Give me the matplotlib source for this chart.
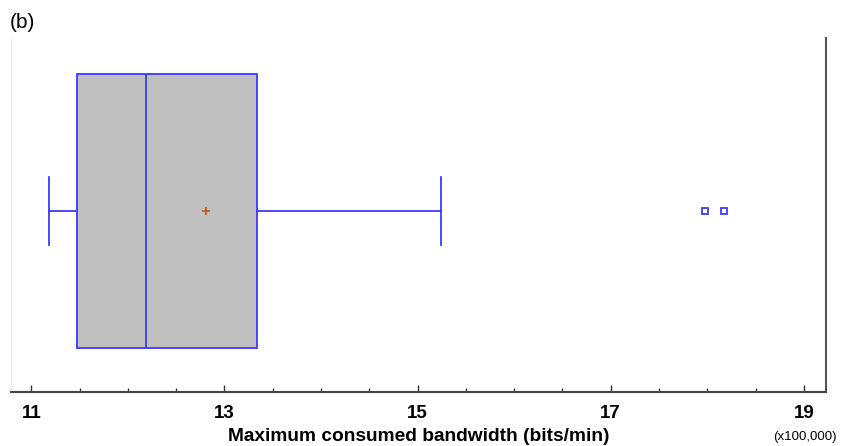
import matplotlib.pyplot as plt
from matplotlib.ticker import MultipleLocator

plt.rcParams['font.family'] = ['Liberation Sans', 'DejaVu Sans']

# box-and-whisker summary (units of 100,000 bits/min)
whisker_low = 11.18
q1 = 11.47
median = 12.19
q3 = 13.34
whisker_high = 15.24
mean = 12.81
outliers = [17.98, 18.17]

major_ticks = [11, 13, 15, 17, 19]

blue = '#3a3aff'

fig = plt.figure(figsize=(8.45, 4.46), dpi=100)
ax = fig.add_axes([11/845, 54/446, 815/845, 354/446])

stats = [dict(whislo=whisker_low, q1=q1, med=median, q3=q3, whishi=whisker_high,
              mean=mean, fliers=outliers)]
ax.bxp(stats, positions=[0.511], widths=0.774, vert=False, patch_artist=True,
       showmeans=True, capwidths=0.192,
       boxprops=dict(facecolor='#c0c0c0', edgecolor=blue, linewidth=1.3),
       medianprops=dict(color=blue, linewidth=1.3),
       whiskerprops=dict(color=blue, linewidth=1.3),
       capprops=dict(color=blue, linewidth=1.3),
       meanprops=dict(marker='+', markeredgecolor='#c0561e', markersize=6,
                      markeredgewidth=1.2),
       flierprops=dict(marker='s', markerfacecolor='none', markeredgecolor=blue,
                       markersize=4.5, markeredgewidth=1.3))

ax.set_xlim(10.79, 19.23)
ax.set_ylim(0, 1)
ax.set_yticks([])
ax.set_xticks(major_ticks)
ax.xaxis.set_minor_locator(MultipleLocator(0.5))
ax.tick_params(axis='x', which='major', direction='in', length=5, width=1,
               color='#333333', pad=9)
ax.tick_params(axis='x', which='minor', direction='in', length=3, width=1,
               color='#333333')
for lbl in ax.get_xticklabels():
    lbl.set_fontweight('bold')
    lbl.set_fontsize(13.5)

ax.spines['top'].set_visible(False)
ax.spines['left'].set_color('#eeeeee')
ax.spines['left'].set_linewidth(0.8)
ax.spines['bottom'].set_color('#444444')
ax.spines['bottom'].set_linewidth(1.5)
ax.spines['right'].set_color('#555555')
ax.spines['right'].set_linewidth(1.5)

ax.set_xlabel('Maximum consumed bandwidth (bits/min)', fontsize=13.8,
              fontweight='bold', labelpad=5)
fig.text(805/845, 1 - 437/446, '(x100,000)', fontsize=9.5, ha='center', va='center')
fig.text(10/845, 1 - 23/446, '(b)', fontsize=15, ha='left', va='center')

fig.savefig('out.png', dpi=100)
